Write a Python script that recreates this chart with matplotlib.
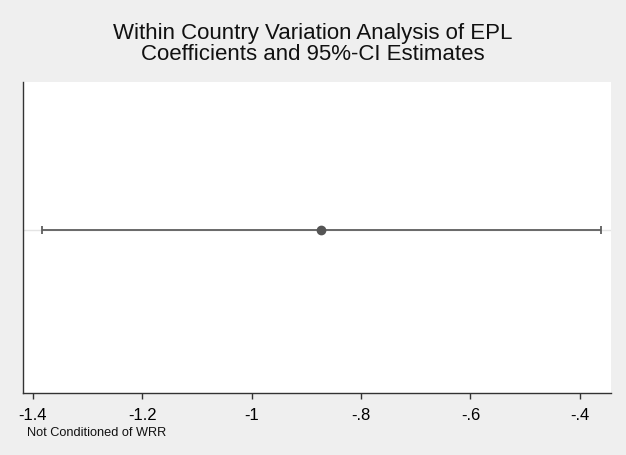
import matplotlib
matplotlib.use("Agg")
import matplotlib.pyplot as plt

plt.rcParams['font.family'] = ['Liberation Sans', 'DejaVu Sans']

labels = ["Not Conditioned of WRR"]
coef = [-0.873]
ci_low = [-1.384]
ci_high = [-0.362]
xticks = [-1.4, -1.2, -1.0, -0.8, -0.6, -0.4]
xticklabels = ["-1.4", "-1.2", "-1", "-.8", "-.6", "-.4"]

bg = "#efefef"
fig = plt.figure(figsize=(6.26, 4.56), dpi=100, facecolor=bg)
ax = fig.add_axes([23/626, 1-394/456, (611-23)/626, (394-83)/456])
ax.set_facecolor("white")

ypos = [1 + i for i in range(len(coef))]
for y in ypos:
    ax.axhline(y, color="#e4e4e4", lw=1.0, zorder=1)

err = [[c - l for c, l in zip(coef, ci_low)], [h - c for c, h in zip(coef, ci_high)]]
ax.errorbar(coef, ypos, xerr=err, fmt="o", color="#555555", ecolor="#5e5e5e",
            elinewidth=1.3, capsize=3, capthick=1.3, markersize=6, zorder=3)

ax.set_xlim(-1.418, -0.343)
ax.set_ylim(0.476, 1.476)
ax.set_yticks([])
ax.set_xticks(xticks)
ax.set_xticklabels(xticklabels, fontsize=12)
ax.tick_params(axis="x", direction="out", length=4.5, width=1, color="#333333", pad=5.5)
for s in ["top", "right"]:
    ax.spines[s].set_visible(False)
for s in ["left", "bottom"]:
    ax.spines[s].set_color("#333333")
    ax.spines[s].set_linewidth(1.0)

fig.text(0.5, 1-44/456, "Within Country Variation Analysis of EPL\nCoefficients and 95%-CI Estimates",
         ha="center", va="center", fontsize=16, linespacing=0.98, color="#111111")
fig.text(27/626, 1-433/456, labels[0], ha="left", va="center", fontsize=9.2, color="#111111")

fig.savefig("out.png", dpi=100, facecolor=bg)
